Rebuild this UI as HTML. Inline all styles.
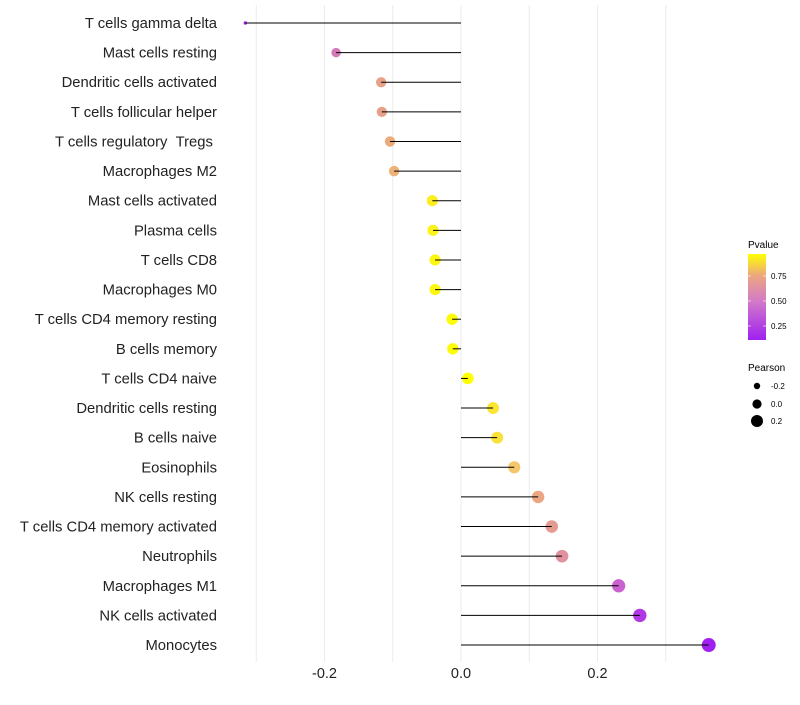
<!DOCTYPE html>
<html><head><meta charset="utf-8"><style>
body{margin:0;background:#fff;font-family:"Liberation Sans",sans-serif;}
</style></head><body>
<svg id="chart" width="800" height="700" xmlns="http://www.w3.org/2000/svg">
<defs><linearGradient id="pg" x1="0" y1="1" x2="0" y2="0">
<stop offset="0" stop-color="#a020f0"/><stop offset="0.45" stop-color="#d27ac9"/><stop offset="0.75" stop-color="#eca77f"/><stop offset="1" stop-color="#ffff00"/></linearGradient></defs>
<g id="grid"></g><g id="dots"></g><g id="marks"></g><g id="labels"></g>
<g font-size="10">
<text x="748" y="248">Pvalue</text>
<rect x="748" y="254" width="18" height="86" fill="url(#pg)"/>
<line x1="748" x2="751" y1="276" y2="276" stroke="#fff" opacity="0.6"/><line x1="763" x2="766" y1="276" y2="276" stroke="#fff" opacity="0.6"/>
<line x1="748" x2="751" y1="301" y2="301" stroke="#fff" opacity="0.6"/><line x1="763" x2="766" y1="301" y2="301" stroke="#fff" opacity="0.6"/>
<line x1="748" x2="751" y1="326" y2="326" stroke="#fff" opacity="0.6"/><line x1="763" x2="766" y1="326" y2="326" stroke="#fff" opacity="0.6"/>
<text x="771" y="279" font-size="8">0.75</text><text x="771" y="304" font-size="8">0.50</text><text x="771" y="329" font-size="8">0.25</text>
<text x="748" y="371">Pearson</text>
<circle cx="757" cy="386" r="3.2"/><circle cx="757" cy="404" r="4.6"/><circle cx="757" cy="421" r="6"/>
<text x="771" y="389" font-size="8">-0.2</text><text x="771" y="407" font-size="8">0.0</text><text x="771" y="424" font-size="8">0.2</text>
</g>
</svg>
<script>
const cells=["T cells gamma delta","Mast cells resting","Dendritic cells activated","T cells follicular helper","T cells regulatory\u00a0\u00a0Tregs\u00a0","Macrophages M2","Mast cells activated","Plasma cells","T cells CD8","Macrophages M0","T cells CD4 memory resting","B cells memory","T cells CD4 naive","Dendritic cells resting","B cells naive","Eosinophils","NK cells resting","T cells CD4 memory activated","Neutrophils","Macrophages M1","NK cells activated","Monocytes"];
const pearson=[-0.316,-0.183,-0.117,-0.116,-0.104,-0.098,-0.042,-0.041,-0.038,-0.038,-0.013,-0.012,0.010,0.047,0.053,0.078,0.113,0.133,0.148,0.231,0.262,0.363];
const pvalue=[0.12,0.47,0.67,0.67,0.72,0.75,0.92,0.93,0.94,0.94,0.95,0.95,0.96,0.90,0.89,0.83,0.70,0.64,0.58,0.37,0.21,0.11];
const xTicks=[-0.2,0.0,0.2];
const xTickLabels=["-0.2","0.0","0.2"];
const gridVals=[-0.3,-0.2,-0.1,0,0.1,0.2,0.3];
const NS="http://www.w3.org/2000/svg";
const X=v=>461+v*682.5;
const Y=i=>23+i*29.62;
function mk(t,a,p){const e=document.createElementNS(NS,t);for(const k in a)e.setAttribute(k,a[k]);p.appendChild(e);return e;}
const G=document.getElementById('grid'),M=document.getElementById('marks'),D=document.getElementById('dots'),L=document.getElementById('labels');
gridVals.forEach(v=>{const l=mk('line',{x1:X(v),x2:X(v),y1:5,y2:662,stroke:'#ebebeb','stroke-width':1},G);

});
xTicks.forEach((v,i)=>{const t=mk('text',{x:X(v),y:678,'text-anchor':'middle','font-size':14.5,fill:'#222'},L);t.textContent=xTickLabels[i];

});
const stops=[[0,[160,32,240]],[0.3,[200,96,208]],[0.55,[224,144,160]],[0.7,[234,168,128]],[0.85,[245,200,106]],[1,[255,255,0]]];
function col(p){const pmin=0.11,pmax=0.96;let t=(p-pmin)/(pmax-pmin);t=Math.max(0,Math.min(1,t));
for(let i=1;i<stops.length;i++){if(t<=stops[i][0]){const a=stops[i-1],b=stops[i],f=(t-a[0])/(b[0]-a[0]);return 'rgb('+a[1].map((c,k)=>Math.round(c+(b[1][k]-c)*f)).join(',')+')';}}return 'rgb(255,255,0)';}
const rmin=1.7,rmax=7,cmin=Math.min(...pearson),cmax=Math.max(...pearson);
cells.forEach((c,i)=>{
const t=mk('text',{x:217,y:Y(i)+5,'text-anchor':'end','font-size':14.8,fill:'#222'},L);t.textContent=c;


const f=(pearson[i]-cmin)/(cmax-cmin);const r=rmin+(rmax-rmin)*Math.pow(f,0.35);
const d=mk('circle',{cx:X(pearson[i]),cy:Y(i),r:r,fill:col(pvalue[i])},D);


const s=mk('line',{x1:X(0),x2:X(pearson[i]),y1:Y(i),y2:Y(i),stroke:'#000','stroke-width':1},M);


});
</script>
</body></html>
